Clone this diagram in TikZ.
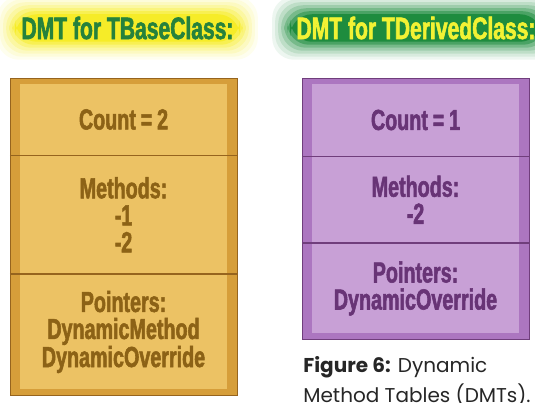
\documentclass[tikz,border=0pt]{standalone}
\usepackage{fontspec}
\newfontfamily\dmtfont[FakeStretch=0.68,FakeBold=1.8]{Liberation Sans Bold}
\newfontfamily\capfont{Poppins}
\usetikzlibrary{positioning,fit,backgrounds}
\tikzset{every picture/.style={line width=0.75pt}}

\definecolor{goldfill}{RGB}{236,194,100}
\definecolor{goldedge}{RGB}{214,158,58}
\definecolor{goldline}{RGB}{150,100,30}
\definecolor{goldtext}{RGB}{140,98,22}
\definecolor{lilacfill}{RGB}{200,160,214}
\definecolor{lilacedge}{RGB}{172,118,192}
\definecolor{lilacline}{RGB}{112,62,124}
\definecolor{lilactext}{RGB}{104,52,118}
\definecolor{glowyellow}{RGB}{246,236,40}
\definecolor{glowgreen}{RGB}{30,140,62}
\definecolor{titlegreen}{RGB}{38,130,60}
\definecolor{titleyellow}{RGB}{242,242,52}

\tikzset{
  title/.style={inner xsep=8pt, inner ysep=4pt, font=\dmtfont\fontsize{31}{31}\selectfont},
  lcell/.style={minimum width=207pt, inner sep=0pt, align=center, fill=goldfill, text=goldtext,
    font=\dmtfont\fontsize{29}{27}\selectfont},
  rcell/.style={lcell, fill=lilacfill, text=lilactext},
  lline/.style={goldline, line width=1.5pt},
  rline/.style={lilacline, line width=1.5pt}
}

\begin{document}
\begin{tikzpicture}[x=1pt,y=1pt]
    \useasboundingbox (0,0) rectangle (535,403);

    % Titles
    \node[title, text=titlegreen] (ltitle) at (127.5,375) {DMT for TBaseClass:};
    \node[title, text=titleyellow] (rtitle) at (416,375) {DMT for TDerivedClass:};

    % DMT of the base class
    \node[lcell, minimum height=71pt] (lcount) at (123.5,283.5) {Count\,=\,2};
    \node[lcell, minimum height=118pt, below=0pt of lcount] (lmeth) {Methods:\\-1\\-2};
    \node[lcell, minimum height=115pt, below=0pt of lmeth] (lptr) {Pointers:\\DynamicMethod\\DynamicOverride};

    % DMT of the derived class
    \node[rcell, minimum height=72pt] (rcount) at (415.5,283) {Count\,=\,1};
    \node[rcell, minimum height=86pt, below=0pt of rcount] (rmeth) {Methods:\\-2};
    \node[rcell, minimum height=90pt, below=0pt of rmeth] (rptr) {Pointers:\\DynamicOverride};

    % Glow and bevelled frames
    \begin{scope}[on background layer]
        \foreach \g/\o in {16/0.08,13/0.1,10/0.14,7/0.2,4/0.3,1/0.5,-2/1} {
            \fill[glowyellow, opacity=\o, rounded corners=22pt]
                ([shift={(-\g,-\g)}]ltitle.south west) rectangle ([shift={(\g,\g)}]ltitle.north east);
            \fill[glowgreen, opacity=\o, rounded corners=22pt]
                ([shift={(-\g,-\g)}]rtitle.south west) rectangle ([shift={(\g,\g)}]rtitle.north east);
        }
        \node[fit=(lcount)(lptr), inner xsep=9.5pt, inner ysep=5pt, fill=goldedge, draw=goldline, line width=0.5pt] (lbox) {};
        \node[fit=(rcount)(rptr), inner xsep=9.5pt, inner ysep=5pt, fill=lilacedge, draw=lilacline, line width=0.5pt] (rbox) {};
    \end{scope}

    % Dividers
    \draw[lline] (lbox.west |- lcount.south) -- (lbox.east |- lcount.south);
    \draw[lline] (lbox.west |- lmeth.south) -- (lbox.east |- lmeth.south);
    \draw[rline] (rbox.west |- rcount.south) -- (rbox.east |- rcount.south);
    \draw[rline] (rbox.west |- rmeth.south) -- (rbox.east |- rmeth.south);

    % Caption
    \node[anchor=north west, inner sep=0pt, align=left, text=black!85,
          font=\capfont\fontsize{20}{30}\selectfont] (caption) at (303,47)
        {\textbf{Figure 6:} Dynamic\\Method Tables (DMTs).};
\end{tikzpicture}
\end{document}
